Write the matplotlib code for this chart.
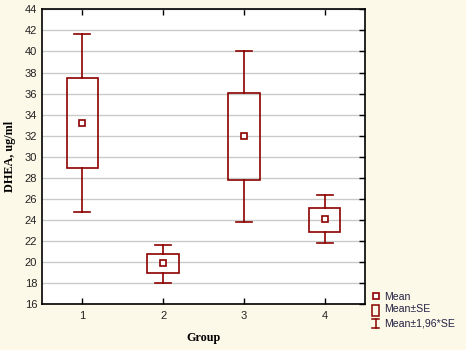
import matplotlib
matplotlib.use("Agg")
import matplotlib.pyplot as plt
from matplotlib.patches import Rectangle
from matplotlib.lines import Line2D

groups = [1, 2, 3, 4]
group_labels = ["1", "2", "3", "4"]
means = [33.25, 19.90, 31.95, 24.05]
se_low = [28.90, 18.98, 27.78, 22.87]
se_high = [37.45, 20.76, 36.03, 25.18]
ci_low = [24.74, 18.06, 23.79, 21.83]
ci_high = [41.66, 21.61, 40.00, 26.35]
y_ticks = [16, 18, 20, 22, 24, 26, 28, 30, 32, 34, 36, 38, 40, 42, 44]

color = "#8b0000"
bg = "#fdf9e8"

fig = plt.figure(figsize=(4.66, 3.5), dpi=100, facecolor=bg)
ax = fig.add_axes([42/466, 1-304.3/350, (365-42)/466, (304.3-9.3)/350])
ax.set_facecolor("white")

box_w = 0.39
cap_w = 0.2
for g, m, sl, sh, cl, ch in zip(groups, means, se_low, se_high, ci_low, ci_high):
    ax.plot([g, g], [sh, ch], color=color, lw=1.2, zorder=3)
    ax.plot([g, g], [cl, sl], color=color, lw=1.2, zorder=3)
    ax.plot([g - cap_w/2, g + cap_w/2], [ch, ch], color=color, lw=1.2, zorder=3)
    ax.plot([g - cap_w/2, g + cap_w/2], [cl, cl], color=color, lw=1.2, zorder=3)
    ax.add_patch(Rectangle((g - box_w/2, sl), box_w, sh - sl, fill=False,
                           edgecolor=color, lw=1.2, zorder=3))
    ax.plot([g], [m], marker="s", ms=5, mfc="white", mec=color, mew=1.2, zorder=4)

ax.set_xlim(0.5, 4.5)
ax.set_ylim(16, 44)
ax.set_yticks(y_ticks)
ax.set_xticks(groups)
ax.set_xticklabels(group_labels)
ax.yaxis.grid(True, color="#c8ccc8", lw=1.0)
ax.set_axisbelow(True)
ax.tick_params(axis="both", direction="in", length=4, width=1, labelsize=8,
               colors="black", top=True, right=True)
ax.tick_params(axis="y", left=False, pad=3.5)
ax.tick_params(axis="x", pad=5)
for s in ax.spines.values():
    s.set_linewidth(1.2)
    s.set_color("black")
for lab in ax.get_xticklabels() + ax.get_yticklabels():
    lab.set_fontfamily("Liberation Sans")
    lab.set_color("#222222")

ax.set_ylabel("DHEA, ug/ml", family="Liberation Serif", weight="bold", fontsize=8.7, labelpad=6)
ax.set_xlabel("Group", family="Liberation Serif", weight="bold", fontsize=8.7, labelpad=8)

# legend (drawn in pixel positions of the figure)
def px(x, y):
    return (x/466, 1 - y/350)

fig.add_artist(Line2D([px(375.5, 0)[0]], [px(0, 295.7)[1]], marker="s", ms=4,
                      mfc="white", mec=color, mew=1.2, transform=fig.transFigure))
x0, y0 = px(371.7, 315.7)
fig.add_artist(Rectangle((x0, y0), 7.3/466, 11/350, fill=False, edgecolor=color,
                         lw=1.1, transform=fig.transFigure))
xa, _ = px(371.7, 0)
xb, _ = px(379.3, 0)
xm, _ = px(375.5, 0)
_, yt = px(0, 318.5)
_, yb = px(0, 328.3)
fig.add_artist(Line2D([xa, xb], [yt, yt], color=color, lw=1.1, transform=fig.transFigure))
fig.add_artist(Line2D([xa, xb], [yb, yb], color=color, lw=1.1, transform=fig.transFigure))
fig.add_artist(Line2D([xm, xm], [yt, yb], color=color, lw=1.1, transform=fig.transFigure))
for txt, y in [("Mean", 296.5), ("Mean±SE", 309.5), ("Mean±1,96*SE", 323.5)]:
    fig.text(*px(384, y), txt, fontsize=7.6, family="Liberation Sans", color="#222244",
             va="center", ha="left")

fig.savefig("out.png", dpi=100, facecolor=bg)
